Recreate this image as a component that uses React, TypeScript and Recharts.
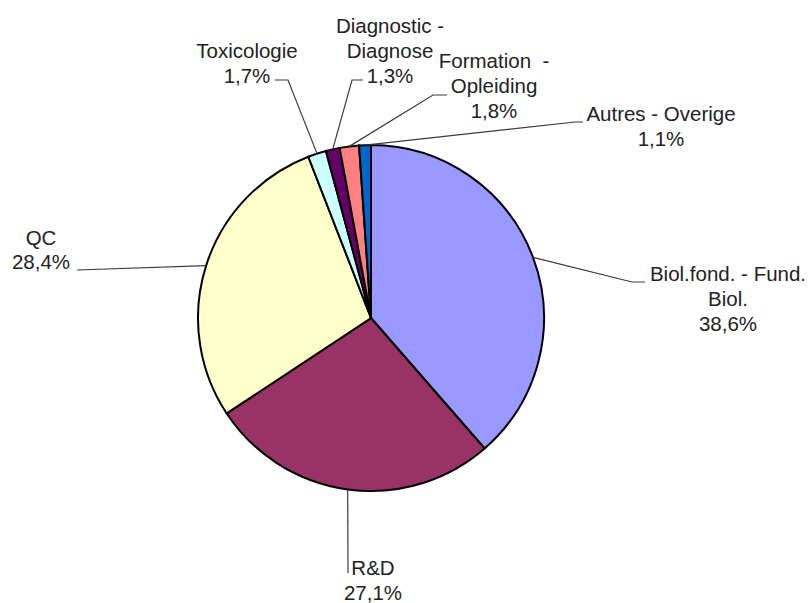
import React from 'react';
import { PieChart, Pie, Cell } from 'recharts';

const categories = [
  'Biol.fond. - Fund. Biol.',
  'R&D',
  'QC',
  'Toxicologie',
  'Diagnostic - Diagnose',
  'Formation - Opleiding',
  'Autres - Overige',
];
const shares = [38.6, 27.1, 28.4, 1.7, 1.3, 1.8, 1.1];
const labelTexts = [
  ['Biol.fond. - Fund.', 'Biol.'],
  ['R&D'],
  ['QC'],
  ['Toxicologie'],
  ['Diagnostic -', 'Diagnose'],
  ['Formation  -', 'Opleiding'],
  ['Autres - Overige'],
];
const colors = ['#9999FF', '#993366', '#FFFFCC', '#CCFFFF', '#660066', '#FF8080', '#0066CC'];

// label placement, relative to pie centre (Excel-style manual positions)
const labelLayout = [
  { tx: 357, ty: -45, gap: 25, elbow: [261, -36], end: [274, -36] },
  { tx: 2, ty: 249, gap: 25, elbow: null, end: [-23, 255] },
  { tx: -330, ty: -81, gap: 24, elbow: null, end: [-294, -48] },
  { tx: -124, ty: -268, gap: 25, elbow: [-83, -238], end: [-96, -238] },
  { tx: 19, ty: -293, gap: 25, elbow: [-19, -238], end: [-8, -238] },
  { tx: 123, ty: -258, gap: 25, elbow: [62, -223], end: [76, -223] },
  { tx: 290, ty: -205, gap: 25, elbow: [204, -196], end: [212, -196] },
];

const data = categories.map((name, i) => ({ name, value: shares[i] }));

const RADIAN = Math.PI / 180;

const renderLabel = (props: any) => {
  const { cx, cy, midAngle, outerRadius, index, value } = props;
  const cfg = labelLayout[index];
  const sx = cx + outerRadius * Math.cos(-midAngle * RADIAN);
  const sy = cy + outerRadius * Math.sin(-midAngle * RADIAN);
  const pts: number[][] = [[sx, sy]];
  if (cfg.elbow) pts.push([cx + cfg.elbow[0], cy + cfg.elbow[1]]);
  pts.push([cx + cfg.end[0], cy + cfg.end[1]]);
  const lines = [...labelTexts[index], value.toFixed(1).replace('.', ',') + '%'];
  return (
    <g key={`lbl-${index}`}>
      <polyline
        points={pts.map((p) => p.join(',')).join(' ')}
        fill="none"
        stroke="#3a3a3a"
        strokeWidth={1.2}
      />
      <text
        x={cx + cfg.tx}
        y={cy + cfg.ty}
        textAnchor="middle"
        fill="#222"
        fontSize={20.5}
        fontFamily="'Liberation Sans', Arial, sans-serif"
        style={{ whiteSpace: 'pre' }}
      >
        {lines.map((ln, k) => (
          <tspan key={k} x={cx + cfg.tx} y={cy + cfg.ty + k * cfg.gap} dominantBaseline="central">
            {ln}
          </tspan>
        ))}
      </text>
    </g>
  );
};

export default function App() {
  return (
    <div style={{ position: 'absolute', left: 0, top: 0, width: 811, height: 603, background: '#fff' }}>
      <PieChart width={811} height={603} margin={{ top: 0, right: 0, bottom: 0, left: 0 }}>
        <Pie
          data={data}
          dataKey="value"
          nameKey="name"
          cx={371}
          cy={318}
          outerRadius={173}
          startAngle={90}
          endAngle={-270}
          stroke="#000"
          strokeWidth={2}
          label={renderLabel}
          labelLine={false}
          isAnimationActive={false}
        >
          {data.map((d, i) => (
            <Cell key={d.name} fill={colors[i]} />
          ))}
        </Pie>
      </PieChart>
    </div>
  );
}
